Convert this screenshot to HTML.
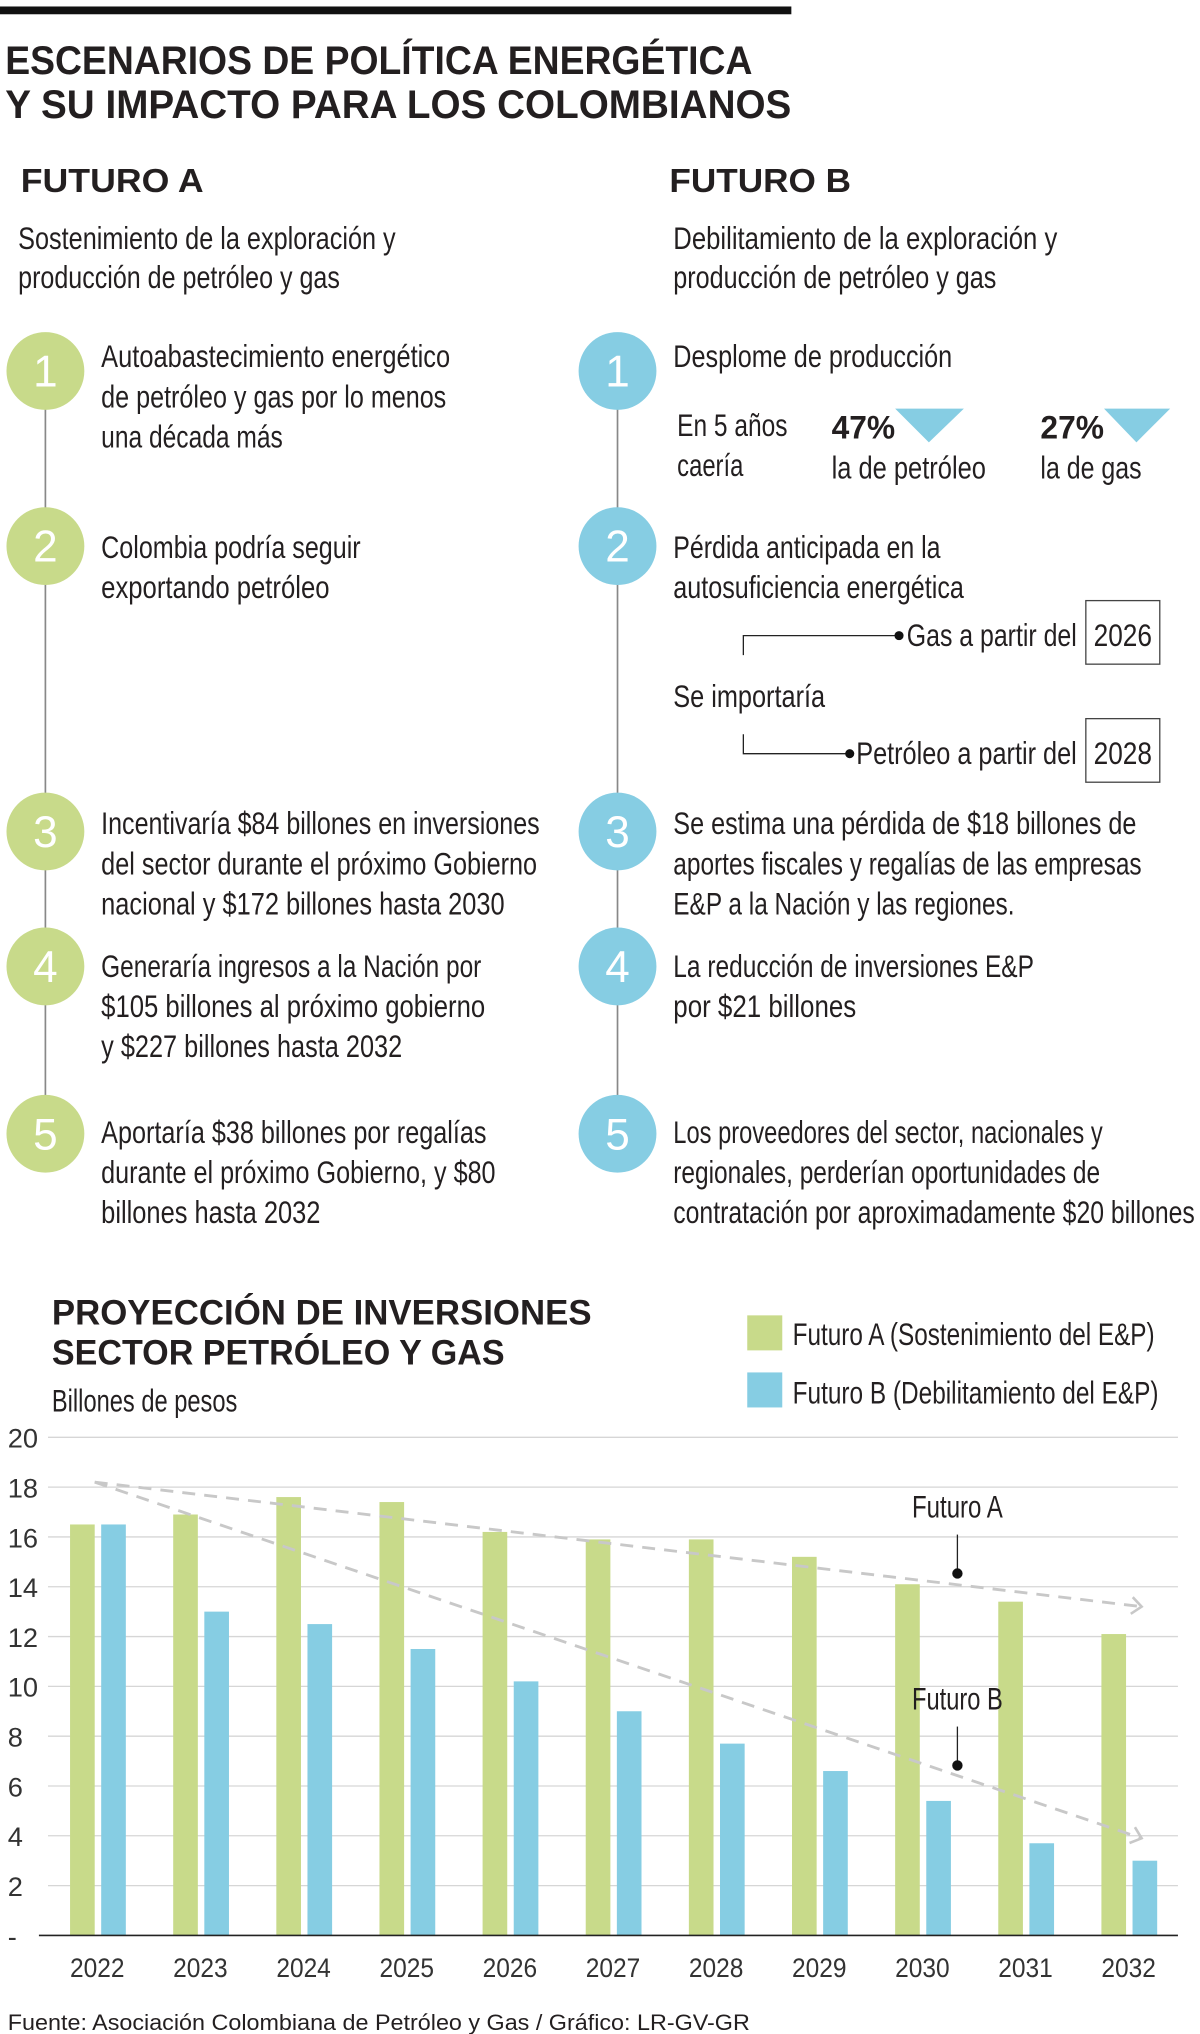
<!DOCTYPE html>
<html><head><meta charset="utf-8">
<style>
html,body{margin:0;padding:0;background:#fff;}
svg{display:block;}
text{font-family:"Liberation Sans",sans-serif;fill:#231f20;}
.b{font-weight:bold;}
.t{font-size:24px;}
.n{font-size:34px;fill:#fff;text-anchor:middle;}
.ax{font-size:21px;fill:#333;}
</style></head>
<body>
<svg id="page" width="1200" height="2034" viewBox="0 0 925 1568" preserveAspectRatio="none" xmlns="http://www.w3.org/2000/svg">
<rect x="0" y="5" width="610" height="6" fill="#111"/>
<text class="b" x="4" y="57" font-size="31" textLength="576" lengthAdjust="spacingAndGlyphs">ESCENARIOS DE POLÍTICA ENERGÉTICA</text>
<text class="b" x="4" y="91" font-size="31" textLength="606" lengthAdjust="spacingAndGlyphs">Y SU IMPACTO PARA LOS COLOMBIANOS</text>

<text class="b" x="16" y="148" font-size="26" textLength="141" lengthAdjust="spacingAndGlyphs">FUTURO A</text>
<text class="b" x="516" y="148" font-size="26" textLength="140" lengthAdjust="spacingAndGlyphs">FUTURO B</text>
<text class="t" x="14" y="192" textLength="291" lengthAdjust="spacingAndGlyphs">Sostenimiento de la exploración y</text>
<text class="t" x="14" y="222" textLength="248" lengthAdjust="spacingAndGlyphs">producción de petróleo y gas</text>
<text class="t" x="519" y="192" textLength="296" lengthAdjust="spacingAndGlyphs">Debilitamiento de la exploración y</text>
<text class="t" x="519" y="222" textLength="249" lengthAdjust="spacingAndGlyphs">producción de petróleo y gas</text>

<line x1="35" y1="286" x2="35" y2="874" stroke="#888" stroke-width="1.3"/>
<line x1="476" y1="286" x2="476" y2="874" stroke="#888" stroke-width="1.3"/>
<g fill="#c8da8a">
<circle cx="35" cy="286" r="30"/>
<circle cx="35" cy="421" r="30"/>
<circle cx="35" cy="641" r="30"/>
<circle cx="35" cy="745" r="30"/>
<circle cx="35" cy="874" r="30"/>
</g>
<g fill="#86cde3">
<circle cx="476" cy="286" r="30"/>
<circle cx="476" cy="421" r="30"/>
<circle cx="476" cy="641" r="30"/>
<circle cx="476" cy="745" r="30"/>
<circle cx="476" cy="874" r="30"/>
</g>
<text class="n" x="35" y="298">1</text>
<text class="n" x="35" y="433">2</text>
<text class="n" x="35" y="653">3</text>
<text class="n" x="35" y="757">4</text>
<text class="n" x="35" y="886">5</text>
<text class="n" x="476" y="298">1</text>
<text class="n" x="476" y="433">2</text>
<text class="n" x="476" y="653">3</text>
<text class="n" x="476" y="757">4</text>
<text class="n" x="476" y="886">5</text>

<g>
<text class="t" x="78" y="283" textLength="269" lengthAdjust="spacingAndGlyphs">Autoabastecimiento energético</text>
<text class="t" x="78" y="314" textLength="266" lengthAdjust="spacingAndGlyphs">de petróleo y gas por lo menos</text>
<text class="t" x="78" y="345" textLength="140" lengthAdjust="spacingAndGlyphs">una década más</text>
<text class="t" x="78" y="430" textLength="200" lengthAdjust="spacingAndGlyphs">Colombia podría seguir</text>
<text class="t" x="78" y="461" textLength="176" lengthAdjust="spacingAndGlyphs">exportando petróleo</text>
<text class="t" x="78" y="643" textLength="338" lengthAdjust="spacingAndGlyphs">Incentivaría $84 billones en inversiones</text>
<text class="t" x="78" y="674" textLength="336" lengthAdjust="spacingAndGlyphs">del sector durante el próximo Gobierno</text>
<text class="t" x="78" y="705" textLength="311" lengthAdjust="spacingAndGlyphs">nacional y $172 billones hasta 2030</text>
<text class="t" x="78" y="753" textLength="293" lengthAdjust="spacingAndGlyphs">Generaría ingresos a la Nación por</text>
<text class="t" x="78" y="784" textLength="296" lengthAdjust="spacingAndGlyphs">$105 billones al próximo gobierno</text>
<text class="t" x="78" y="815" textLength="232" lengthAdjust="spacingAndGlyphs">y $227 billones hasta 2032</text>
<text class="t" x="78" y="881" textLength="297" lengthAdjust="spacingAndGlyphs">Aportaría $38 billones por regalías</text>
<text class="t" x="78" y="912" textLength="304" lengthAdjust="spacingAndGlyphs">durante el próximo Gobierno, y $80</text>
<text class="t" x="78" y="943" textLength="169" lengthAdjust="spacingAndGlyphs">billones hasta 2032</text>
</g>

<g>
<text class="t" x="519" y="283" textLength="215" lengthAdjust="spacingAndGlyphs">Desplome de producción</text>
<text class="t" x="522" y="336" textLength="85" lengthAdjust="spacingAndGlyphs">En 5 años</text>
<text class="t" x="522" y="367" textLength="51" lengthAdjust="spacingAndGlyphs">caería</text>
<text class="b" x="641" y="338" font-size="25" textLength="49" lengthAdjust="spacingAndGlyphs">47%</text>
<polygon points="690,315 743,315 716,341" fill="#86cde3"/>
<text class="t" x="641" y="369" textLength="119" lengthAdjust="spacingAndGlyphs">la de petróleo</text>
<text class="b" x="802" y="338" font-size="25" textLength="49" lengthAdjust="spacingAndGlyphs">27%</text>
<polygon points="851,315 902,315 876,341" fill="#86cde3"/>
<text class="t" x="802" y="369" textLength="78" lengthAdjust="spacingAndGlyphs">la de gas</text>
<text class="t" x="519" y="430" textLength="206" lengthAdjust="spacingAndGlyphs">Pérdida anticipada en la</text>
<text class="t" x="519" y="461" textLength="224" lengthAdjust="spacingAndGlyphs">autosuficiencia energética</text>
<polyline points="573,505 573,490 693,490" fill="none" stroke="#222" stroke-width="1"/>
<circle cx="693" cy="490" r="3.5" fill="#111"/>
<text class="t" x="699" y="498" textLength="131" lengthAdjust="spacingAndGlyphs">Gas a partir del</text>
<rect x="837" y="463" width="57" height="49" fill="none" stroke="#444" stroke-width="1"/>
<text class="t" x="843" y="498" textLength="45" lengthAdjust="spacingAndGlyphs">2026</text>
<text class="t" x="519" y="545" textLength="117" lengthAdjust="spacingAndGlyphs">Se importaría</text>
<polyline points="573,566 573,581 655,581" fill="none" stroke="#222" stroke-width="1"/>
<circle cx="655" cy="581" r="3.5" fill="#111"/>
<text class="t" x="660" y="589" textLength="170" lengthAdjust="spacingAndGlyphs">Petróleo a partir del</text>
<rect x="837" y="554" width="57" height="49" fill="none" stroke="#444" stroke-width="1"/>
<text class="t" x="843" y="589" textLength="45" lengthAdjust="spacingAndGlyphs">2028</text>
<text class="t" x="519" y="643" textLength="357" lengthAdjust="spacingAndGlyphs">Se estima una pérdida de $18 billones de</text>
<text class="t" x="519" y="674" textLength="361" lengthAdjust="spacingAndGlyphs">aportes fiscales y regalías de las empresas</text>
<text class="t" x="519" y="705" textLength="263" lengthAdjust="spacingAndGlyphs">E&amp;P a la Nación y las regiones.</text>
<text class="t" x="519" y="753" textLength="278" lengthAdjust="spacingAndGlyphs">La reducción de inversiones E&amp;P</text>
<text class="t" x="519" y="784" textLength="141" lengthAdjust="spacingAndGlyphs">por $21 billones</text>
<text class="t" x="519" y="881" textLength="331" lengthAdjust="spacingAndGlyphs">Los proveedores del sector, nacionales y</text>
<text class="t" x="519" y="912" textLength="329" lengthAdjust="spacingAndGlyphs">regionales, perderían oportunidades de</text>
<text class="t" x="519" y="943" textLength="402" lengthAdjust="spacingAndGlyphs">contratación por aproximadamente $20 billones</text>
</g>

<text class="b" x="40" y="1021" font-size="27" textLength="416" lengthAdjust="spacingAndGlyphs">PROYECCIÓN DE INVERSIONES</text>
<text class="b" x="40" y="1052" font-size="27" textLength="349" lengthAdjust="spacingAndGlyphs">SECTOR PETRÓLEO Y GAS</text>
<text class="t" x="40" y="1088" textLength="143" lengthAdjust="spacingAndGlyphs">Billones de pesos</text>
<rect x="576" y="1014" width="27" height="27" fill="#c8da8a"/>
<text class="t" x="611" y="1037" textLength="279" lengthAdjust="spacingAndGlyphs">Futuro A (Sostenimiento del E&amp;P)</text>
<rect x="576" y="1058" width="27" height="27" fill="#86cde3"/>
<text class="t" x="611" y="1082" textLength="282" lengthAdjust="spacingAndGlyphs">Futuro B (Debilitamiento del E&amp;P)</text>

<g id="chart"></g>

<text x="6" y="1565" font-size="17" textLength="572" lengthAdjust="spacingAndGlyphs">Fuente: Asociación Colombiana de Petróleo y Gas  / Gráfico: LR-GV-GR</text>
</svg>
<script>
const years = ["2022","2023","2024","2025","2026","2027","2028","2029","2030","2031","2032"];
const futuroA = [16.5,16.9,17.6,17.4,16.2,15.9,15.9,15.2,14.1,13.4,12.1];
const futuroB = [16.5,13.0,12.5,11.5,10.2,9.0,7.7,6.6,5.4,3.7,3.0];
const yTicks = [0,2,4,6,8,10,12,14,16,18,20];
const yTickLabels = ["-","2","4","6","8","10","12","14","16","18","20"];
const trendA = [18.2,13.2];
const trendB = [18.2,3.9];

const NS="http://www.w3.org/2000/svg";
const g=document.getElementById('chart');
const y0=1492, pxPerUnit=19.2, xStart=54, step=79.5, bw=19;
const yS=v=>y0-v*pxPerUnit;
const xS=i=>xStart+i*step;
function mk(tag,attrs){const e=document.createElementNS(NS,tag);for(const k in attrs)e.setAttribute(k,attrs[k]);g.appendChild(e);return e;}

yTicks.forEach((t,i)=>{
  if(t>0){
    const l=mk('line',{x1:37,x2:908,y1:yS(t),y2:yS(t),stroke:'#d6d6d6','stroke-width':1});
    
    
  }
  const tx=mk('text',{x:6,y:yS(t)+8,class:'ax'});
  tx.textContent=yTickLabels[i];
  
  
});
years.forEach((yr,i)=>{
  const a=mk('rect',{x:xS(i),y:yS(futuroA[i]),width:bw,height:futuroA[i]*pxPerUnit,fill:'#c8da8a'});
  
  
  const b=mk('rect',{x:xS(i)+24,y:yS(futuroB[i]),width:bw,height:futuroB[i]*pxPerUnit,fill:'#86cde3'});
  
  
  const t=mk('text',{x:xS(i)+21,y:1524,class:'ax','text-anchor':'middle','font-size':24,textLength:42,lengthAdjust:'spacingAndGlyphs'});
  t.textContent=yr;
  
  
});
const base=mk('line',{x1:30,x2:908,y1:y0,y2:y0,stroke:'#222','stroke-width':1.3});



function trend(vals,name){
  const x1=xS(0)+19, x2=880;
  const l=mk('line',{x1:x1,y1:yS(vals[0]),x2:x2,y2:yS(vals[1]),stroke:'#c8c8c8','stroke-width':2.2,'stroke-dasharray':'10,7'});
  
  
  const ang=Math.atan2(yS(vals[1])-yS(vals[0]),x2-x1);
  const L=10;
  const p=[[x2-L*Math.cos(ang-0.7),yS(vals[1])-L*Math.sin(ang-0.7)],[x2,yS(vals[1])],[x2-L*Math.cos(ang+0.7),yS(vals[1])-L*Math.sin(ang+0.7)]];
  const h=mk('polyline',{points:p.map(q=>q.join(',')).join(' '),fill:'none',stroke:'#c8c8c8','stroke-width':2});
  
  
}
trend(trendA,'trend-futuro-a');
trend(trendB,'trend-futuro-b');

function annot(label,ty,name){
  const t=mk('text',{x:703,y:ty,class:'t',textLength:70,lengthAdjust:'spacingAndGlyphs'});
  t.textContent=label;
  
  
  const l=mk('line',{x1:738,x2:738,y1:ty+13,y2:ty+40,stroke:'#222','stroke-width':1});
  
  
  const c=mk('circle',{cx:738,cy:ty+43,r:4,fill:'#111'});
  
  
}
annot('Futuro A',1170,'annotation-futuro-a');
annot('Futuro B',1318,'annotation-futuro-b');
</script>
</body></html>
